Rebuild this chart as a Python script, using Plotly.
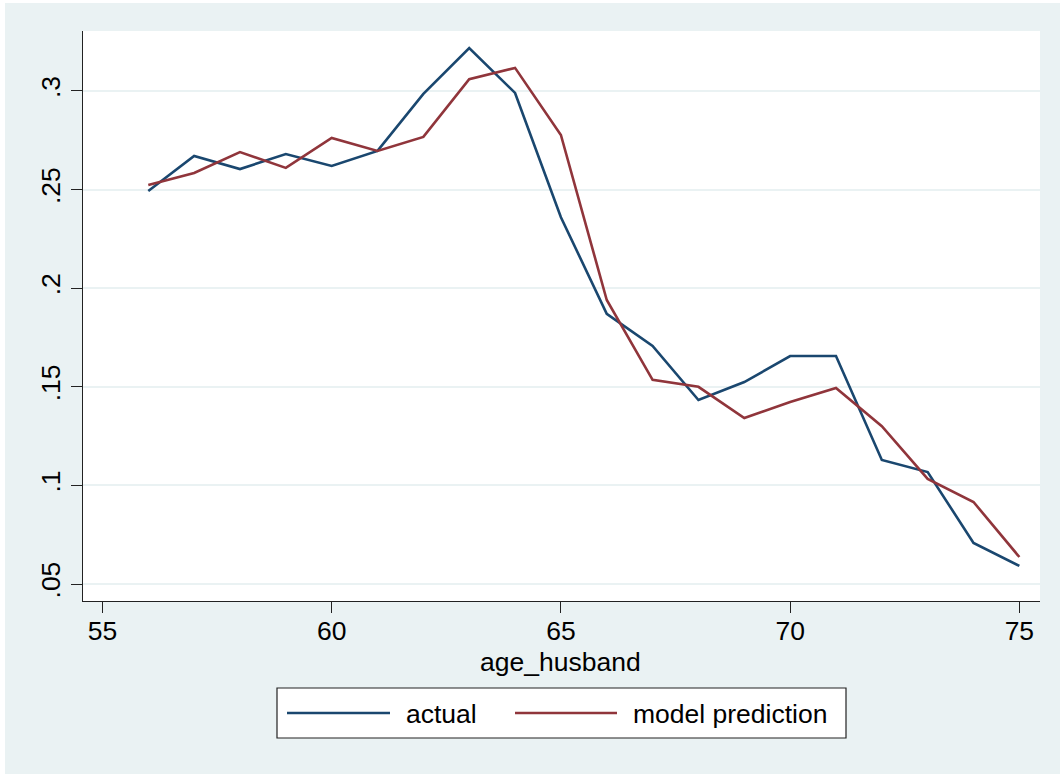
import plotly.graph_objects as go

age = list(range(56, 76))
actual = [0.2493, 0.2670, 0.2604, 0.2680, 0.2620, 0.2696, 0.2985, 0.3218, 0.2990, 0.2360,
          0.1870, 0.1707, 0.1433, 0.1524, 0.1656, 0.1656, 0.1129, 0.1068, 0.0708, 0.0592]
predicted = [0.2523, 0.2584, 0.2690, 0.2610, 0.2762, 0.2696, 0.2767, 0.3060, 0.3117, 0.2777,
             0.1940, 0.1535, 0.1500, 0.1342, 0.1423, 0.1494, 0.1300, 0.1033, 0.0916, 0.0637]
x_ticks = [55, 60, 65, 70, 75]
y_ticks = [0.05, 0.10, 0.15, 0.20, 0.25, 0.30]
y_ticktext = [".05", ".1", ".15", ".2", ".25", ".3"]
x_title = "age_husband"
series_names = ["actual", "model prediction"]
colors = ["#1A476F", "#90353B"]

BG = "#EAF2F3"
FONT = "Liberation Sans, Arial, sans-serif"
FS = 26.5

fig = go.Figure()
for name, vals, col in zip(series_names, [actual, predicted], colors):
    fig.add_trace(go.Scatter(x=age, y=vals, mode="lines", name=name,
                             line=dict(color=col, width=2.6), showlegend=False))

W, H = 1060, 774
L, R, T, B = 83, 20, 31, 173
pw, ph = W - L - R, H - T - B

def px(x):
    return (x - L) / pw

def py(y):
    return (H - B - y) / ph

shapes = [
    # white strips at top/left edge
    dict(type="rect", xref="paper", yref="paper", x0=px(0), x1=px(5), y0=py(H), y1=py(0),
         fillcolor="white", line=dict(width=0), layer="above"),
    dict(type="rect", xref="paper", yref="paper", x0=px(0), x1=px(W), y0=py(3), y1=py(0),
         fillcolor="white", line=dict(width=0), layer="above"),
    # legend box
    dict(type="rect", xref="paper", yref="paper", x0=px(277), x1=px(846), y0=py(738), y1=py(688),
         fillcolor="white", line=dict(color="#222222", width=1.2)),
]
annotations = [
    dict(text=x_title, xref="paper", yref="paper", x=px(560), y=py(662),
         xanchor="center", yanchor="middle", showarrow=False,
         font=dict(size=FS, color="black", family=FONT)),
]
legend_lines = [(287, 390, 404), (515, 617, 631)]
for (lx0, lx1, tx), name, col in zip(legend_lines, series_names, colors):
    shapes.append(dict(type="line", xref="paper", yref="paper", x0=px(lx0), x1=px(lx1),
                       y0=py(713), y1=py(713), line=dict(color=col, width=2.6)))
    annotations.append(dict(text=name, xref="paper", yref="paper", x=px(tx), y=py(714),
                            xanchor="left", yanchor="middle", showarrow=False,
                            font=dict(size=FS, color="black", family=FONT)))

fig.update_layout(
    width=W, height=H,
    margin=dict(l=L, r=R, t=T, b=B),
    paper_bgcolor=BG, plot_bgcolor="white",
    font=dict(family=FONT, size=FS, color="black"),
    shapes=shapes, annotations=annotations,
    showlegend=False,
)
fig.update_xaxes(
    range=[54.576, 75.45], tickvals=x_ticks, ticks="outside", ticklen=11, tickwidth=1.3,
    tickcolor="#222222", showline=True, linecolor="#222222", linewidth=1.3,
    showgrid=False, zeroline=False, tickfont=dict(size=FS), ticklabelstandoff=-5,
)
fig.update_yaxes(
    range=[0.0414, 0.3304], tickvals=y_ticks, ticktext=y_ticktext, tickangle=-90,
    ticks="outside", ticklen=11, tickwidth=1.3, tickcolor="#222222",
    showline=True, linecolor="#222222", linewidth=1.3,
    showgrid=True, gridcolor=BG, gridwidth=2, zeroline=False,
    tickfont=dict(size=FS),
)

fig.write_html("out.html")
